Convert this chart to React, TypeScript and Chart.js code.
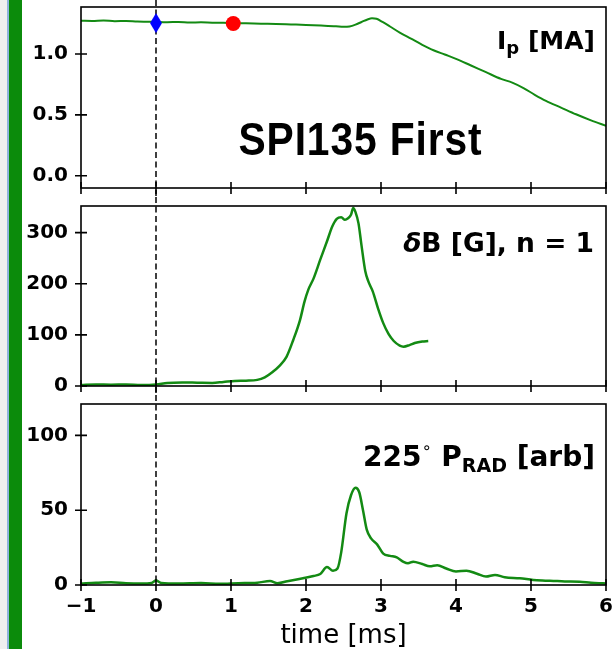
import React, { useEffect, useRef } from 'react';
import { Chart, registerables } from 'chart.js';
Chart.register(...registerables);

// ---------- data ----------
const X_TICKS = [-1, 0, 1, 2, 3, 4, 5, 6];
const IP_TICKS = [0, 0.5, 1.0];
const DB_TICKS = [0, 100, 200, 300];
const PRAD_TICKS = [0, 50, 100];

const IP_TIME = [-1.0, -0.85, -0.7, -0.55, -0.4, -0.25, -0.1, 0, 0.15, 0.3, 0.45, 0.6, 0.75, 0.9, 1.05, 1.2, 1.4, 1.6, 1.8, 2.0, 2.2, 2.4, 2.5, 2.58, 2.66, 2.74, 2.82, 2.88, 2.94, 3.02, 3.12, 3.25, 3.4, 3.55, 3.7, 3.85, 4.0, 4.2, 4.4, 4.6, 4.75, 4.9, 5.05, 5.2, 5.4, 5.6, 5.8, 6.0];
const IP_VALUES = [1.272, 1.270, 1.274, 1.269, 1.271, 1.266, 1.264, 1.262, 1.260, 1.262, 1.258, 1.259, 1.256, 1.255, 1.252, 1.251, 1.248, 1.246, 1.242, 1.238, 1.233, 1.227, 1.222, 1.225, 1.240, 1.262, 1.283, 1.292, 1.288, 1.262, 1.225, 1.175, 1.125, 1.075, 1.030, 0.995, 0.960, 0.905, 0.850, 0.795, 0.765, 0.720, 0.665, 0.615, 0.560, 0.505, 0.455, 0.410];

const MARKER_DIAMOND_TIME = [0];
const MARKER_DIAMOND_IP = [1.253];
const MARKER_CIRCLE_TIME = [1.03];
const MARKER_CIRCLE_IP = [1.25];

const DB_TIME = [-1.0, -0.8, -0.6, -0.4, -0.2, 0, 0.15, 0.35, 0.55, 0.75, 0.9, 1.05, 1.2, 1.35, 1.45, 1.55, 1.65, 1.74, 1.83, 1.92, 1.98, 2.03, 2.1, 2.19, 2.28, 2.35, 2.41, 2.47, 2.52, 2.56, 2.6, 2.63, 2.66, 2.7, 2.74, 2.79, 2.83, 2.89, 2.96, 3.03, 3.1, 3.17, 3.25, 3.3, 3.38, 3.45, 3.55, 3.63];
const DB_VALUES = [2, 3, 2.5, 3, 2, 3, 6, 7, 6.5, 6, 8, 10, 10.5, 12, 17, 27, 40, 57, 90, 129, 165, 188, 210, 247, 283, 312, 327, 330, 325, 328, 335, 348, 340, 318, 275, 225, 205, 185, 152, 123, 102, 88, 79, 77, 80, 84, 87, 88];

const PRAD_TIME = [-1.0, -0.8, -0.6, -0.4, -0.2, -0.06, 0, 0.07, 0.3, 0.6, 0.85, 1.1, 1.35, 1.52, 1.62, 1.75, 1.96, 2.1, 2.19, 2.28, 2.36, 2.42, 2.47, 2.54, 2.6, 2.66, 2.71, 2.76, 2.81, 2.87, 2.95, 3.03, 3.12, 3.21, 3.3, 3.36, 3.43, 3.55, 3.65, 3.75, 3.87, 4.0, 4.14, 4.28, 4.4, 4.52, 4.65, 4.85, 5.03, 5.15, 5.3, 5.45, 5.65, 5.8, 5.96, 6.0];
const PRAD_VALUES = [1, 1.5, 1.8, 1.2, 1.0, 1.4, 3, 1.4, 1.0, 1.3, 0.8, 1.2, 1.5, 2.7, 1.2, 2.5, 4.5, 6, 7.4, 12, 9.5, 11, 22, 48, 60, 65, 62, 50, 37, 31, 27, 21, 19.5, 18.5, 15.5, 14.5, 15.6, 14, 12.5, 13.2, 11, 9, 9.6, 7.5, 5.6, 6.7, 5.2, 4.5, 3.4, 3.0, 2.7, 2.4, 2.2, 1.5, 1.1, 1.0];

// ---------- styles ----------
const FONT = '"DejaVu Sans", sans-serif';
const LINE_GREEN = '#138a13';
const BAR_GREEN = '#0b8b0b';

const zip = (xs: number[], ys: number[]) => xs.map((x, i) => ({ x, y: ys[i] }));
const fmtX = (v: number) => (v < 0 ? '\u2212' + Math.abs(v) : String(v));

type Run = { text: string; font: string; dy?: number };
function drawRuns(ctx: CanvasRenderingContext2D, runs: Run[], right: number, baseline: number) {
  ctx.save();
  ctx.textBaseline = 'alphabetic';
  ctx.textAlign = 'left';
  ctx.fillStyle = '#000';
  let total = 0;
  const widths = runs.map((r) => {
    ctx.font = r.font;
    const w = ctx.measureText(r.text).width;
    total += w;
    return w;
  });
  let x = right - total;
  runs.forEach((r, i) => {
    ctx.font = r.font;
    ctx.fillText(r.text, x, baseline + (r.dy || 0));
    x += widths[i];
  });
  ctx.restore();
}

const framePlugin = {
  id: 'frame',
  afterDraw(chart: any) {
    const { ctx, chartArea: a, scales } = chart;
    ctx.save();
    ctx.strokeStyle = '#000';
    ctx.lineWidth = 1.6;
    ctx.strokeRect(a.left, a.top, a.right - a.left, a.bottom - a.top);
    ctx.beginPath();
    scales.x.ticks.forEach((t: any) => {
      const px = scales.x.getPixelForValue(t.value);
      ctx.moveTo(px, a.bottom - 6);
      ctx.lineTo(px, a.bottom + 6);
    });
    scales.y.ticks.forEach((t: any) => {
      const py = scales.y.getPixelForValue(t.value);
      ctx.moveTo(a.left - 6, py);
      ctx.lineTo(a.left + 6, py);
    });
    ctx.stroke();
    ctx.restore();
  },
};

const dashPlugin = (toCanvasBottom: boolean) => ({
  id: 'dash',
  beforeDatasetsDraw(chart: any) {
    const { ctx, chartArea: a, scales, height } = chart;
    const px = scales.x.getPixelForValue(0);
    ctx.save();
    ctx.setLineDash([6, 3.5]);
    ctx.lineWidth = 1.5;
    ctx.strokeStyle = '#000';
    ctx.beginPath();
    ctx.moveTo(px, 0);
    ctx.lineTo(px, toCanvasBottom ? height : a.bottom);
    ctx.stroke();
    ctx.restore();
  },
});

function diamondImage() {
  const c = document.createElement('canvas');
  c.width = 14;
  c.height = 22;
  const g = c.getContext('2d')!;
  g.fillStyle = '#0000ff';
  g.beginPath();
  g.moveTo(7, 1);
  g.lineTo(13, 11);
  g.lineTo(7, 21);
  g.lineTo(1, 11);
  g.closePath();
  g.fill();
  return c;
}

type PanelCfg = {
  datasets: any[];
  yMin: number;
  yMax: number;
  yTicks: number[];
  yFmt: (v: number) => string;
  padTop: number;
  xHeight: number;
  showX: boolean;
  dashToBottom: boolean;
  label: (chart: any) => void;
};

function build(canvas: HTMLCanvasElement, p: PanelCfg) {
  return new Chart(canvas, {
    type: 'line',
    data: { datasets: p.datasets },
    options: {
      responsive: false,
      animation: false,
      devicePixelRatio: 1,
      events: [],
      layout: { autoPadding: false, padding: { top: p.padTop, right: 6, left: 0, bottom: 0 } },
      plugins: { legend: { display: false }, tooltip: { enabled: false } },
      scales: {
        x: {
          type: 'linear',
          min: -1,
          max: 6,
          afterBuildTicks: (s: any) => {
            s.ticks = X_TICKS.map((v) => ({ value: v }));
          },
          afterFit: (s: any) => {
            s.height = p.xHeight;
            s.paddingLeft = 0;
            s.paddingRight = 0;
          },
          grid: { display: false, drawTicks: false },
          border: { display: false },
          ticks: {
            display: p.showX,
            padding: 10,
            color: '#000',
            maxRotation: 0,
            autoSkip: false,
            font: { family: FONT, size: 20, weight: 'bold' },
            callback: (v: any) => fmtX(Number(v)),
          },
          title: {
            display: p.showX,
            text: 'time [ms]',
            color: '#000',
            padding: 0,
            font: { family: FONT, size: 26, lineHeight: 1 },
          },
        },
        y: {
          type: 'linear',
          min: p.yMin,
          max: p.yMax,
          afterBuildTicks: (s: any) => {
            s.ticks = p.yTicks.map((v) => ({ value: v }));
          },
          afterFit: (s: any) => {
            s.width = 81;
            s.paddingTop = 0;
            s.paddingBottom = 0;
          },
          grid: { display: false, drawTicks: false },
          border: { display: false },
          ticks: {
            padding: 13,
            color: '#000',
            font: { family: FONT, size: 20, weight: 'bold' },
            callback: (v: any) => p.yFmt(Number(v)),
          },
        },
      },
    } as any,
    plugins: [
      dashPlugin(p.dashToBottom),
      framePlugin,
      { id: 'label', afterDraw: (chart: any) => p.label(chart) },
    ] as any,
  });
}

const lineDs = (xs: number[], ys: number[], width: number) => ({
  data: zip(xs, ys),
  borderColor: LINE_GREEN,
  borderWidth: width,
  pointRadius: 0,
  tension: 0.4,
  cubicInterpolationMode: 'monotone',
  fill: false,
});

export default function App() {
  const r1 = useRef<HTMLCanvasElement>(null);
  const r2 = useRef<HTMLCanvasElement>(null);
  const r3 = useRef<HTMLCanvasElement>(null);

  useEffect(() => {
    const diamond = diamondImage();
    const c1 = build(r1.current!, {
      datasets: [
        {
          data: zip(MARKER_DIAMOND_TIME, MARKER_DIAMOND_IP),
          showLine: false,
          pointStyle: diamond,
          pointRadius: 10,
          clip: false,
        },
        {
          data: zip(MARKER_CIRCLE_TIME, MARKER_CIRCLE_IP),
          showLine: false,
          pointStyle: 'circle',
          pointRadius: 7.5,
          pointBackgroundColor: '#ff0000',
          pointBorderWidth: 0,
          pointBorderColor: '#ff0000',
          clip: false,
        },
        lineDs(IP_TIME, IP_VALUES, 2),
      ],
      yMin: -0.1,
      yMax: 1.385,
      yTicks: IP_TICKS,
      yFmt: (v) => v.toFixed(1),
      padTop: 7,
      xHeight: 9,
      showX: false,
      dashToBottom: true,
      label: (chart) => {
        const { ctx, chartArea: a } = chart;
        drawRuns(
          ctx,
          [
            { text: 'I', font: `bold 25px ${FONT}` },
            { text: 'p', font: `bold 18px ${FONT}`, dy: 5 },
            { text: ' [MA]', font: `bold 25px ${FONT}` },
          ],
          a.right - 11,
          a.top + 41.5
        );
        // big title
        ctx.save();
        ctx.fillStyle = '#000';
        ctx.textBaseline = 'alphabetic';
        ctx.textAlign = 'left';
        ctx.font = `bold 46px "Liberation Sans Narrow", "Liberation Sans", Arial, sans-serif`;
        try {
          (ctx as any).letterSpacing = '1px';
        } catch (e) {}
        const txt = 'SPI135 First';
        const w = ctx.measureText(txt).width;
        const sx = 244 / w;
        ctx.translate(a.left + 157.5, a.top + 148);
        ctx.scale(sx, 1);
        ctx.fillText(txt, 0, 0);
        ctx.restore();
      },
    });
    const c2 = build(r2.current!, {
      datasets: [lineDs(DB_TIME, DB_VALUES, 2.5)],
      yMin: 0,
      yMax: 352,
      yTicks: DB_TICKS,
      yFmt: (v) => String(v),
      padTop: 9,
      xHeight: 9,
      showX: false,
      dashToBottom: true,
      label: (chart) => {
        const { ctx, chartArea: a } = chart;
        drawRuns(
          ctx,
          [
            { text: '\u03b4', font: `italic bold 26.5px ${FONT}` },
            { text: 'B [G], n = 1', font: `bold 26.5px ${FONT}` },
          ],
          a.right - 12,
          a.top + 46
        );
      },
    });
    const c3 = build(r3.current!, {
      datasets: [lineDs(PRAD_TIME, PRAD_VALUES, 2.5)],
      yMin: 0,
      yMax: 121,
      yTicks: PRAD_TICKS,
      yFmt: (v) => String(v),
      padTop: 9,
      xHeight: 64,
      showX: true,
      dashToBottom: false,
      label: (chart) => {
        const { ctx, chartArea: a } = chart;
        drawRuns(
          ctx,
          [
            { text: '225', font: `bold 28px ${FONT}` },
            { text: '\u2218', font: `16px ${FONT}`, dy: -13 },
            { text: ' P', font: `bold 28px ${FONT}` },
            { text: 'RAD', font: `bold 19px ${FONT}`, dy: 6 },
            { text: ' [arb]', font: `bold 28px ${FONT}` },
          ],
          a.right - 11,
          a.top + 62
        );
      },
    });
    return () => {
      c1.destroy();
      c2.destroy();
      c3.destroy();
    };
  }, []);

  return (
    <div
      style={{
        position: 'absolute',
        left: 0,
        top: 0,
        width: 612,
        height: 649,
        background: '#fff',
        overflow: 'hidden',
      }}
    >
      <div style={{ position: 'absolute', left: 0, top: 0, width: 8, height: 649, background: '#efefef' }} />
      <div style={{ position: 'absolute', left: 7, top: 0, width: 2, height: 649, background: '#8fb2dc' }} />
      <div style={{ position: 'absolute', left: 9, top: 0, width: 13, height: 649, background: BAR_GREEN }} />
      <canvas ref={r1} width={612} height={197} style={{ position: 'absolute', left: 0, top: 0, width: 612, height: 197 }} />
      <canvas ref={r2} width={612} height={198} style={{ position: 'absolute', left: 0, top: 197, width: 612, height: 198 }} />
      <canvas ref={r3} width={612} height={254} style={{ position: 'absolute', left: 0, top: 395, width: 612, height: 254 }} />
    </div>
  );
}
